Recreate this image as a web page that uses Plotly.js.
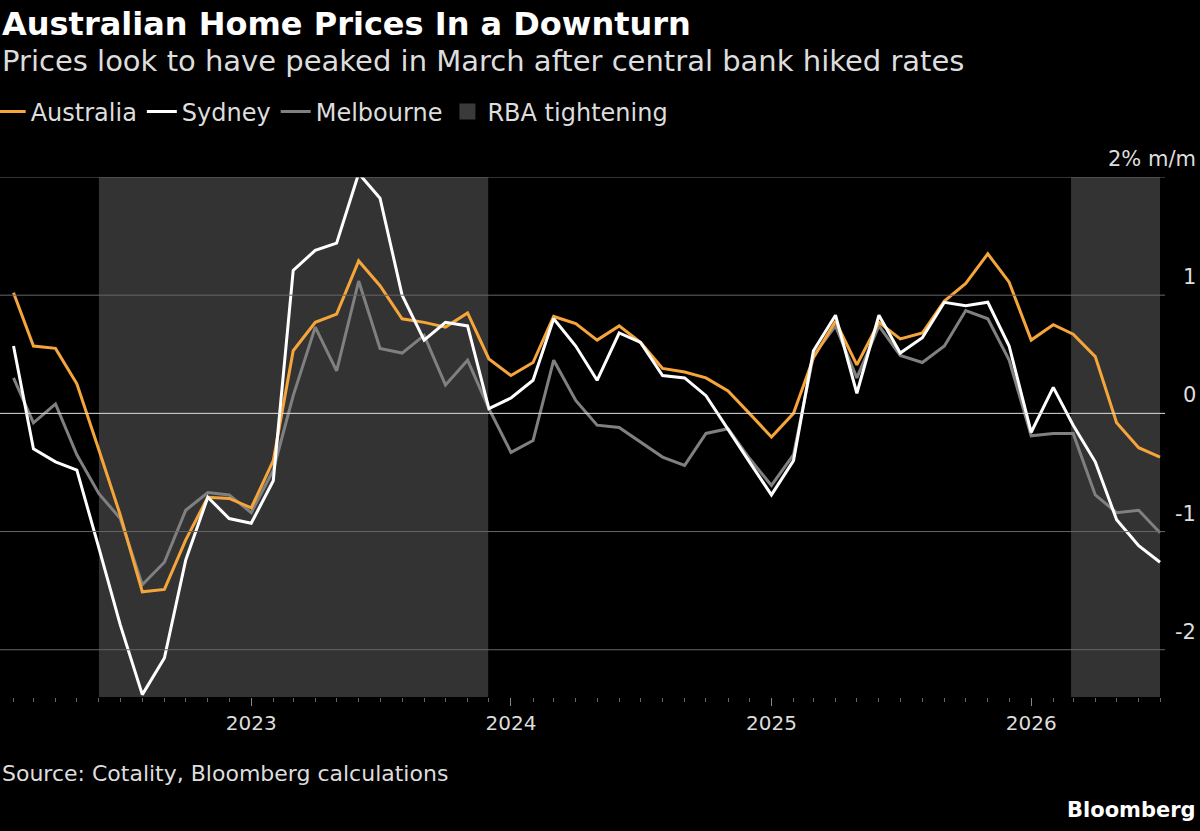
<!DOCTYPE html>
<html>
<head>
<meta charset="utf-8">
<script src="https://cdn.plot.ly/plotly-3.0.1.min.js"></script>
<style>body{margin:0;background:#000}</style>
</head>
<body>
<div id="chart" style="width:1200px;height:831px"></div>
<script>
// monthly, Feb 2022 .. Jul 2026
const months = [];
for (let i = 0; i < 54; i++) {
    const d = new Date(Date.UTC(2022, 1 + i, 1));
    months.push(d.toISOString().slice(0, 10));
}
const australia = [1.02,0.57,0.55,0.25,-0.31,-0.86,-1.51,-1.49,-1.07,-0.71,-0.72,-0.80,-0.40,0.53,0.77,0.84,1.29,1.08,0.80,0.77,0.73,0.85,0.46,0.32,0.43,0.82,0.76,0.62,0.74,0.60,0.38,0.35,0.30,0.19,0.0,-0.20,0.0,0.47,0.78,0.41,0.77,0.63,0.68,0.95,1.10,1.35,1.11,0.62,0.75,0.67,0.48,-0.08,-0.29,-0.37];
const sydney = [0.57,-0.30,-0.41,-0.48,-1.14,-1.79,-2.38,-2.07,-1.24,-0.71,-0.89,-0.93,-0.57,1.21,1.38,1.44,2.03,1.82,1.0,0.62,0.77,0.74,0.04,0.13,0.28,0.80,0.57,0.28,0.68,0.60,0.32,0.30,0.15,-0.14,-0.41,-0.69,-0.40,0.53,0.83,0.17,0.83,0.51,0.64,0.94,0.91,0.94,0.57,-0.16,0.22,-0.10,-0.41,-0.90,-1.12,-1.26];
const melbourne = [0.30,-0.08,0.08,-0.35,-0.68,-0.89,-1.45,-1.26,-0.82,-0.67,-0.69,-0.84,-0.48,0.15,0.73,0.36,1.12,0.55,0.51,0.66,0.24,0.45,0.04,-0.33,-0.23,0.45,0.11,-0.10,-0.12,-0.24,-0.37,-0.44,-0.17,-0.13,-0.38,-0.61,-0.35,0.49,0.74,0.30,0.74,0.49,0.43,0.57,0.87,0.80,0.45,-0.19,-0.17,-0.17,-0.69,-0.84,-0.82,-1.01];
const tighteningStart = ['2022-06-01', '2026-02-26'];
const tighteningEnd = ['2023-11-30', '2026-07-01'];
const yTicks = [2, 1, 0, -1, -2];
const yTickLabels = ['2% m/m', '1', '0', '-1', '-2'];
const yearTicks = ['2023-01-01', '2024-01-01', '2025-01-01', '2026-01-01'];
const yearLabels = ['2023', '2024', '2025', '2026'];

const font = 'DejaVu Sans, sans-serif';

const data = [
    {x: [null], y: [null], name: 'Australia', type: 'scatter', mode: 'lines', line: {color: '#f6a53a', width: 3}},
    {x: [null], y: [null], name: 'Sydney', type: 'scatter', mode: 'lines', line: {color: '#ffffff', width: 3}},
    {x: [null], y: [null], name: 'Melbourne', type: 'scatter', mode: 'lines', line: {color: '#808080', width: 3}},
    {x: [null], y: [null], name: 'RBA tightening', type: 'scatter', mode: 'markers', marker: {symbol: 'square', color: '#3a3a3a', size: 18}},
    {x: months, y: melbourne, type: 'scatter', mode: 'lines', line: {color: '#808080', width: 3}, showlegend: false},
    {x: months, y: australia, type: 'scatter', mode: 'lines', line: {color: '#f6a53a', width: 3}, showlegend: false},
    {x: months, y: sydney, type: 'scatter', mode: 'lines', line: {color: '#ffffff', width: 3}, showlegend: false}
];

const shapes = tighteningStart.map((s, i) => ({
    type: 'rect', xref: 'x', yref: 'y', x0: s, x1: tighteningEnd[i], y0: -2.4, y1: 2,
    fillcolor: '#333333', line: {width: 0}, layer: 'below'
}));
yTicks.forEach(v => shapes.push({
    type: 'line', xref: 'paper', yref: 'y', x0: 0, x1: 1, y0: v, y1: v,
    line: {color: v === 0 ? '#dddddd' : '#666666', width: 1}, layer: 'above'
}));

const annotations = yTicks.map((v, i) => ({
    xref: 'paper', yref: 'y', x: 1.028, y: v, text: yTickLabels[i], showarrow: false,
    xanchor: 'right', yanchor: 'bottom', yshift: 4, font: {color: '#ddd', size: 21, family: font}
}));
annotations.push(
    {xref: 'paper', yref: 'paper', x: 0, y: 1.335, xanchor: 'left', yanchor: 'top', showarrow: false,
     text: '<b>Australian Home Prices In a Downturn</b>', font: {color: '#fff', size: 32, family: font}},
    {xref: 'paper', yref: 'paper', x: 0, y: 1.26, xanchor: 'left', yanchor: 'top', showarrow: false,
     text: 'Prices look to have peaked in March after central bank hiked rates', font: {color: '#ddd', size: 29, family: font}},
    {xref: 'paper', yref: 'paper', x: 0, y: -0.12, xanchor: 'left', yanchor: 'top', showarrow: false,
     text: 'Source: Cotality, Bloomberg calculations', font: {color: '#ddd', size: 22, family: font}},
    {xref: 'paper', yref: 'paper', x: 1.028, y: -0.19, xanchor: 'right', yanchor: 'top', showarrow: false,
     text: '<b>Bloomberg</b>', font: {color: '#fff', size: 21, family: font}}
);

const layout = {
    width: 1200, height: 831,
    paper_bgcolor: '#000', plot_bgcolor: '#000',
    margin: {l: 0, r: 35, t: 177, b: 134, autoexpand: false},
    showlegend: true,
    legend: {orientation: 'h', x: -0.008, y: 1.125, xanchor: 'left', yanchor: 'middle',
             font: {color: '#ddd', size: 24, family: font}, itemwidth: 30, tracegroupgap: 0},
    xaxis: {
        type: 'date', range: ['2022-01-13', '2026-07-08'], automargin: false,
        showgrid: false, zeroline: false, showline: false,
        tickvals: yearTicks, ticktext: yearLabels, ticks: 'outside', ticklen: 8, tickcolor: '#888',
        tickfont: {color: '#ddd', size: 20, family: font},
        minor: {dtick: 'M1', ticks: 'outside', ticklen: 4, tickcolor: '#666', showgrid: false}
    },
    yaxis: {
        range: [-2.4, 2], showgrid: false, zeroline: false, showticklabels: false, fixedrange: true, automargin: false
    },
    shapes: shapes,
    annotations: annotations
};

Plotly.newPlot('chart', data, layout, {displayModeBar: false});
</script>
</body>
</html>
